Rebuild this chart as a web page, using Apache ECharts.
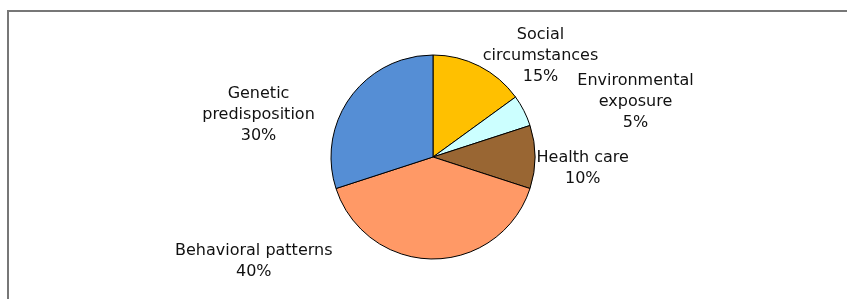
<!DOCTYPE html>
<html>

<head>
    <meta charset="utf-8">
    <title>Pie</title>
    <script src="https://cdn.jsdelivr.net/npm/echarts@6/dist/echarts.min.js"></script>
    <style>
        body {
            margin: 0;
            background: #fff;
        }

        #main {
            position: absolute;
            left: 0;
            top: 0;
            width: 847px;
            height: 299px;
        }

        /* left + top rule of the frame */
        .frame {
            position: absolute;
            left: 7px;
            top: 10px;
            width: 840px;
            height: 289px;
            border-left: 2px solid #777;
            border-top: 2px solid #777;
            pointer-events: none;
        }
    </style>
</head>

<body>
    <div id="main"></div>
    <div class="frame"></div>

    <script type="text/javascript">
        var categories = ['Social\ncircumstances', 'Environmental\nexposure', 'Health care',
            'Behavioral patterns', 'Genetic\npredisposition'];
        var shares = [15, 5, 10, 40, 30];
        var colors = ['#FFC000', '#CCFFFF', '#996633', '#FF9966', '#558ED5'];
        // small nudges of each label from where echarts puts it
        var labelNudge = [[-7, 0], [36, -19], [-9, -7], [-263, -10], [-21, 25]];

        var pieData = [];
        for (var i = 0; i < categories.length; i++) {
            pieData.push({
                name: categories[i],
                value: shares[i],
                itemStyle: { color: colors[i] }
            });
        }

        var myChart = echarts.init(document.getElementById('main'));

        var option = {
            animation: false,
            textStyle: { fontFamily: 'DejaVu Sans' },
            series: [{
                type: 'pie',
                center: [433, 157],
                radius: 102,
                startAngle: 90,
                clockwise: true,
                data: pieData,
                itemStyle: {
                    borderColor: '#000',
                    borderWidth: 1
                },
                label: {
                    show: true,
                    position: 'outside',
                    formatter: '{b}\n{c}%',
                    color: '#111',
                    fontSize: 16,
                    lineHeight: 21,
                    align: 'center'
                },
                labelLine: { show: false, length: 12, length2: 0 },
                labelLayout: function (params) {
                    var r = params.labelRect;
                    var n = labelNudge[params.dataIndex];
                    return {
                        x: r.x + r.width / 2 + n[0],
                        y: r.y + r.height / 2 + n[1],
                        align: 'center',
                        verticalAlign: 'middle'
                    };
                }
            }]
        };

        myChart.setOption(option);
    </script>
</body>

</html>
